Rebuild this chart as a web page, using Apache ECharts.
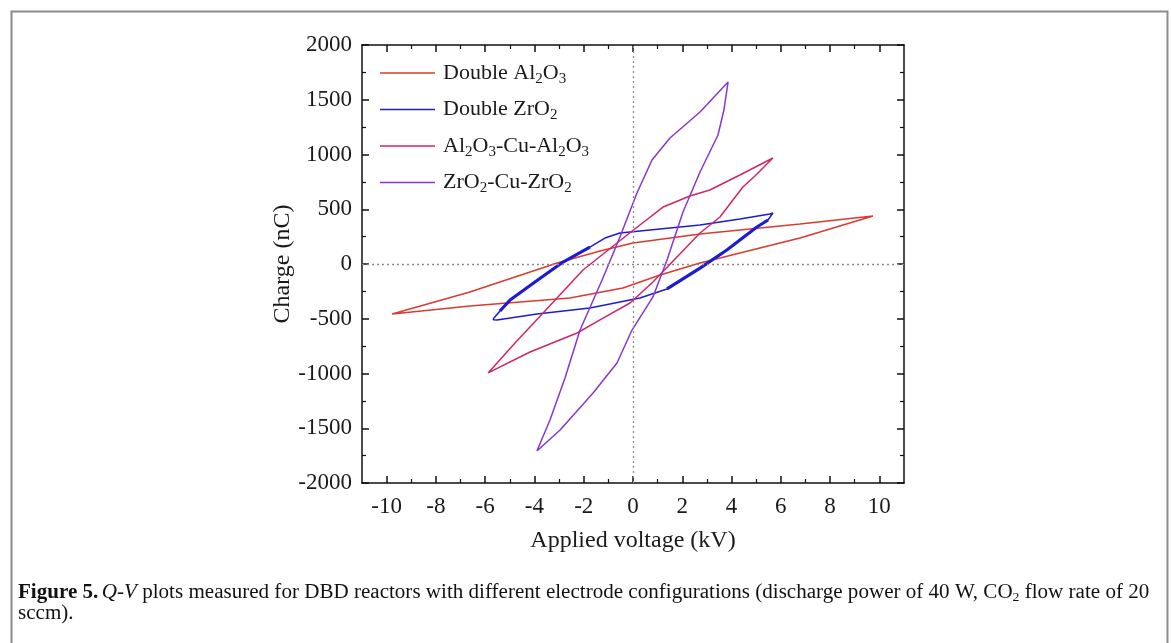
<!DOCTYPE html>
<html><head><meta charset="utf-8">
<script src="https://cdn.jsdelivr.net/npm/echarts@6/dist/echarts.min.js"></script>
<style>html,body{margin:0;padding:0;background:#fff}#c{width:1171px;height:643px}</style>
</head><body><div id="c"></div>
<script>
// ---- data ----
const seriesNames = ['Double Al2O3', 'Double ZrO2', 'Al2O3-Cu-Al2O3', 'ZrO2-Cu-ZrO2'];
const legendLabels = [
  '{a|Double Al}{s|2}{a|O}{s|3}',
  '{a|Double ZrO}{s|2}',
  '{a|Al}{s|2}{a|O}{s|3}{a|-Cu-Al}{s|2}{a|O}{s|3}',
  '{a|ZrO}{s|2}{a|-Cu-ZrO}{s|2}'
];
// Double Al2O3 (kV, nC)
const alX = [-9.78, -6.62, -2.56, -0.41, 1.10, 2.72, 5.15, 6.78, 9.74, 6.78, 2.72, 0, -1.34, -3.08, -6.62, -9.78];
const alY = [-457, -384, -310, -219, -100, 9, 146, 237, 438, 365, 274, 192, 119, 9, -256, -457];
// Double ZrO2
const zrX = [-5.68, -5.40, -4.99, -3.98, -2.84, -1.75, -1.14, -0.53, 0.69, 2.72, 4.34, 5.56, 5.68, 5.48, 5.03, 3.81, 2.72, 1.38, 0.28, -1.75, -3.90, -5.52, -5.66, -5.68];
const zrY = [-502, -429, -329, -164, 18, 155, 237, 283, 310, 356, 411, 457, 466, 402, 338, 128, -37, -228, -310, -402, -457, -511, -510, -502];
// thick (noisy) parts of the Double ZrO2 loop, as index ranges into zrX/zrY
const zrThick = [[1, 5], [13, 17]];
// Al2O3-Cu-Al2O3
const acX = [-5.88, -4.79, -3.65, -2.03, -0.65, 0.28, 1.22, 2.31, 3.12, 4.34, 5.68, 4.95, 4.46, 3.53, 2.72, 0.81, -0.12, -1.34, -2.27, -4.18, -5.88];
const acY = [-995, -721, -447, -55, 192, 356, 520, 621, 676, 813, 968, 804, 703, 429, 283, -164, -356, -511, -630, -804, -995];
// ZrO2-Cu-ZrO2
const zcX = [-3.90, -3.37, -2.76, -2.15, -1.22, -0.53, 0.16, 0.77, 1.50, 2.72, 3.86, 3.69, 3.45, 2.72, 2.03, 1.38, 0.81, -0.04, -0.65, -1.62, -2.96, -3.90];
const zcY = [-1708, -1425, -1041, -603, -128, 247, 648, 950, 1151, 1388, 1662, 1406, 1178, 840, 475, 37, -301, -603, -904, -1178, -1516, -1708];
const xMajorTicks = [-10, -8, -6, -4, -2, 0, 2, 4, 6, 8, 10];
const xMinorTicks = [-9, -7, -5, -3, -1, 1, 3, 5, 7, 9];

// ---- chart ----
const zip = (xs, ys) => xs.map((x, i) => [x, ys[i]]);
const F = 'Liberation Serif';
const TXT = '#1a1a1a';
const colors = ['#db3a2e', '#1c1cd6', '#d02668', '#8a35d2'];

const xBase = {
  type: 'value', min: -11, max: 11, splitLine: { show: false },
  axisLine: { show: true, onZero: false, lineStyle: { color: '#111', width: 1.5 } }
};
const xAxes = [
  Object.assign({}, xBase, { position: 'bottom',
    axisTick: { show: true, inside: true, length: 7, customValues: xMajorTicks, lineStyle: { color: '#111', width: 1.5 } },
    axisLabel: { show: true, customValues: xMajorTicks, margin: 12, fontFamily: F, fontSize: 23, color: TXT, formatter: v => String(v) },
    name: 'Applied voltage (kV)', nameLocation: 'middle', nameGap: 46,
    nameTextStyle: { fontFamily: F, fontSize: 24, color: TXT } }),
  Object.assign({}, xBase, { position: 'bottom', axisLine: { show: false, onZero: false },
    axisTick: { show: true, inside: true, length: 4, customValues: xMinorTicks, lineStyle: { color: '#111', width: 1.2 } },
    axisLabel: { show: false } }),
  Object.assign({}, xBase, { position: 'top',
    axisTick: { show: true, inside: true, length: 7, customValues: xMajorTicks, lineStyle: { color: '#111', width: 1.5 } },
    axisLabel: { show: false } }),
  Object.assign({}, xBase, { position: 'top', axisLine: { show: false, onZero: false },
    axisTick: { show: true, inside: true, length: 4, customValues: xMinorTicks, lineStyle: { color: '#111', width: 1.2 } },
    axisLabel: { show: false } })
];
const yBase = {
  type: 'value', min: -2000, max: 2000, interval: 500, splitLine: { show: false },
  axisLine: { show: true, onZero: false, lineStyle: { color: '#111', width: 1.5 } },
  axisTick: { show: true, inside: true, length: 7, lineStyle: { color: '#111', width: 1.5 } },
  minorTick: { show: true, splitNumber: 2, length: 4, lineStyle: { color: '#111', width: 1.2 } },
  minorSplitLine: { show: false }
};
const yAxes = [
  Object.assign({}, yBase, { position: 'left',
    axisLabel: { show: true, margin: 10, fontFamily: F, fontSize: 23, color: TXT, formatter: v => String(v) },
    name: 'Charge (nC)', nameLocation: 'middle', nameGap: 59, nameRotate: 90,
    nameTextStyle: { fontFamily: F, fontSize: 24, color: TXT } }),
  Object.assign({}, yBase, { position: 'right', axisLabel: { show: false } })
];

const lineSeries = (name, data, color, width, extra) => Object.assign({
  type: 'line', name, data, showSymbol: false, symbol: 'none', smooth: false,
  lineStyle: { color, width }, itemStyle: { color }, silent: true, z: 3
}, extra || {});

const series = [
  lineSeries(seriesNames[0], zip(alX, alY), colors[0], 1.5, {
    markLine: {
      silent: true, symbol: ['none', 'none'], label: { show: false },
      lineStyle: { color: '#8c8c8c', type: [2, 3], width: 1.3 },
      data: [{ xAxis: 0 }, { yAxis: 0 }]
    }
  }),
  lineSeries(seriesNames[1], zip(zrX, zrY), colors[1], 1.5),
  ...zrThick.map(r => lineSeries(seriesNames[1], zip(zrX.slice(r[0], r[1] + 1), zrY.slice(r[0], r[1] + 1)), colors[1], 3.2, { z: 4 })),
  lineSeries(seriesNames[2], zip(acX, acY), colors[2], 1.5),
  lineSeries(seriesNames[3], zip(zcX, zcY), colors[3], 1.5)
];

const chart = echarts.init(document.getElementById('c'), null, { renderer: 'canvas' });
chart.setOption({
  animation: false,
  backgroundColor: '#fff',
  grid: { left: 362, top: 45, width: 542, height: 438, containLabel: false },
  xAxis: xAxes,
  yAxis: yAxes,
  legend: {
    orient: 'vertical', left: 375, top: 57, itemWidth: 55, itemHeight: 1.6, itemGap: 12,
    icon: 'rect',
    data: seriesNames, selectedMode: false,
    formatter: name => legendLabels[seriesNames.indexOf(name)],
    textStyle: {
      fontFamily: F, fontSize: 22, color: TXT, padding: [0, 0, 0, 3],
      rich: {
        a: { fontFamily: F, fontSize: 22, color: TXT },
        s: { fontFamily: F, fontSize: 15, color: TXT, padding: [12, 0, 0, 0] }
      }
    }
  },
  graphic: [
    { type: 'rect', left: 9, top: 9, shape: { width: 1156, height: 700 }, style: { fill: 'none', stroke: '#8a8a8a', lineWidth: 2 }, silent: true },
    { type: 'text', x: 18, y: 582, scaleX: 1.053, silent: true, style: {
        text: '{b|Figure 5.} {i|Q}{n|-}{i|V}{n| plots measured for DBD reactors with different electrode configurations (discharge power of 40 W, CO}{s|2}{n| flow rate of 20}',
        rich: {
          b: { fontFamily: F, fontSize: 20, fontWeight: 'bold', fill: '#111' },
          i: { fontFamily: F, fontSize: 20, fontStyle: 'italic', fill: '#111' },
          n: { fontFamily: F, fontSize: 20, fill: '#111' },
          s: { fontFamily: F, fontSize: 13, fill: '#111', padding: [9, 0, 0, 0] }
        }
    } },
    { type: 'text', x: 18, y: 604, scaleX: 1.053, silent: true, style: { text: 'sccm).', font: '20px "Liberation Serif"', fill: '#111' } }
  ],
  series
});
</script></body></html>
